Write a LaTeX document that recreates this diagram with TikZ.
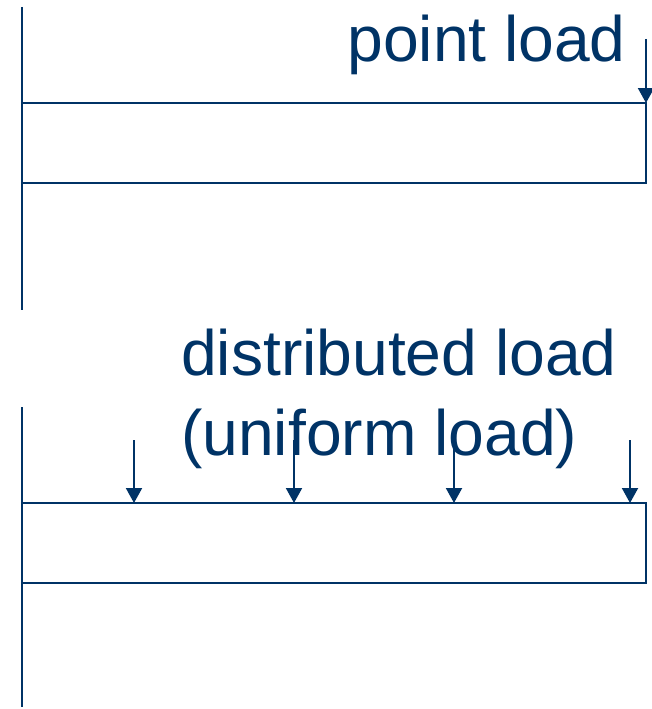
\documentclass[tikz,border=0pt]{standalone}
\usepackage{fontspec}
\setmainfont{Liberation Sans}
\usetikzlibrary{arrows.meta}
\definecolor{navy}{HTML}{003366}
\begin{document}
\begin{tikzpicture}[x=1pt,y=-1pt,
  wall/.style={draw=navy,line width=2.6pt},
  beam/.style={draw=navy,line width=2.4pt,rectangle,minimum width=624pt,minimum height=80pt,inner sep=0pt,outer sep=0pt,anchor=north west},
  load/.style={draw=navy,line width=2pt,-{Triangle[width=16pt,length=15pt]}},
  lbl/.style={text=navy,font=\fontsize{64.2}{80}\selectfont,inner sep=0pt}]
\useasboundingbox (0,0) rectangle (651,709);
% top: point load
\coordinate (w1t) at (22,7);
\coordinate (w1b) at (22,310);
\draw[wall] (w1t) -- (w1b);
\node[beam] (b1) at (22,103) {};
\coordinate (p1) at (646,39);
\draw[load] (p1) -- (b1.north east);
\node[lbl,anchor=base east] (t1) at (626,62) {point load};
% bottom: distributed load
\coordinate (w2t) at (22,407);
\coordinate (w2b) at (22,707);
\draw[wall] (w2t) -- (w2b);
\node[beam] (b2) at (22,503) {};
\foreach \i/\x in {1/134,2/294,3/454,4/630}{
  \coordinate (q\i) at (\x,440);
  \draw[load] (q\i) -- (q\i |- b2.north);
}
\node[lbl,anchor=base west] (t2) at (181,375) {distributed load};
\node[lbl,anchor=base west] (t3) at (181,455) {(uniform load)};
\end{tikzpicture}
\end{document}
